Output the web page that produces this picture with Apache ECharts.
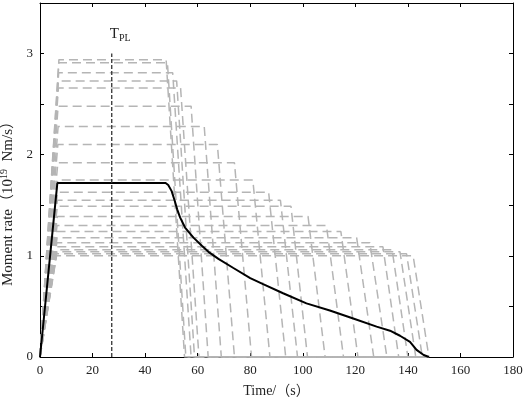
<!DOCTYPE html>
<html>
<head>
<meta charset="utf-8">
<script src="https://cdn.jsdelivr.net/npm/echarts@6/dist/echarts.min.js"></script>
<style>
  html, body { margin: 0; padding: 0; background: #fff; }
  #main { width: 526px; height: 399px; }
</style>
</head>
<body>
<div id="main"></div>
<script>
// 灰色虚线：各个梯形震源时间函数（平台值、上升结束、下降开始、结束时刻）
var grayLevels    = [2.94, 2.91, 2.81, 2.73, 2.66, 2.48, 2.28, 2.10, 1.92, 1.75, 1.63, 1.55, 1.49, 1.39, 1.30, 1.24, 1.18, 1.13, 1.09, 1.06, 1.04, 1.02, 1.00];
var grayRiseEnd   = [7.2, 7.2, 7.1, 7.0, 7.0, 6.9, 6.9, 6.8, 6.8, 6.7, 6.7, 6.6, 6.6, 6.6, 6.5, 6.5, 6.5, 6.4, 6.4, 6.4, 6.4, 6.3, 6.3];
var grayFallStart = [48.0, 48.5, 50.5, 52.0, 53.5, 57.5, 62.5, 67.5, 74.0, 81.0, 87.0, 91.5, 95.5, 102.0, 109.0, 114.5, 120.5, 125.5, 130.5, 134.0, 137.0, 139.5, 142.0];
var grayEnd       = [55.0, 55.5, 57.5, 58.8, 60.5, 64.0, 69.0, 74.0, 80.5, 87.5, 93.5, 98.0, 101.8, 108.5, 115.5, 121.0, 127.0, 132.0, 136.5, 140.0, 143.0, 145.5, 148.0];
var grayTail = 148;

// 黑色实线
var blackTime = [0, 6.6, 47.8, 48.8, 50.1, 51.2, 52.2, 53.3, 55.2, 58.4, 61.6, 64.1, 67.9, 73.6, 80.0, 84.9, 92.5, 101.4, 110.3, 119.2, 128.1, 133.2, 137.0, 140.8, 143.3, 146.0, 148.0];
var blackRate = [0, 1.72, 1.72, 1.70, 1.64, 1.55, 1.46, 1.38, 1.28, 1.18, 1.10, 1.04, 0.97, 0.88, 0.78, 0.72, 0.63, 0.53, 0.46, 0.38, 0.30, 0.26, 0.21, 0.15, 0.07, 0.02, 0];

// T_PL
var tplTime = 27.3;
var tplTop = 3.0;

var xTicks = [0, 180, 20];
var yTicks = [0, 3.5, 0.5];

var fontFam = 'Liberation Serif, Noto Sans CJK SC, serif';

var series = [];
for (var i = 0; i < grayLevels.length; i++) {
    series.push({
        type: 'line',
        symbol: 'none',
        silent: true,
        lineStyle: { color: '#b5b5b5', width: 1.5, type: [9, 5] },
        data: [[0, 0], [grayRiseEnd[i], grayLevels[i]], [grayFallStart[i], grayLevels[i]], [grayEnd[i], 0], [grayTail, 0]]
    });
}

var blackData = blackTime.map(function (t, k) { return [t, blackRate[k]]; });
series.push({
    type: 'line',
    symbol: 'none',
    z: 5,
    lineStyle: { color: '#000', width: 2 },
    data: blackData
});

series.push({
    type: 'line',
    symbol: 'none',
    z: 6,
    lineStyle: { color: '#333', width: 1.3, type: [4, 2] },
    data: [[tplTime, 0], [tplTime, tplTop]],
    endLabel: {
        show: true,
        formatter: '{t|T}{s|PL}',
        offset: [-10, -20],
        rich: {
            t: { fontFamily: fontFam, fontSize: 15, color: '#222' },
            s: { fontFamily: fontFam, fontSize: 10, color: '#222', padding: [9, 0, 0, 0] }
        }
    }
});

var myChart = echarts.init(document.getElementById('main'));
myChart.setOption({
    animation: false,
    grid: { left: 40, right: 13, top: 3, bottom: 42, containLabel: false, outerBoundsMode: 'none' },
    xAxis: [
        {
            type: 'value',
            min: xTicks[0], max: xTicks[1], interval: xTicks[2],
            name: 'Time/（s）',
            nameLocation: 'middle',
            nameGap: 27,
            nameTextStyle: { fontFamily: fontFam, fontSize: 14, color: '#222' },
            axisLine: { onZero: false, lineStyle: { color: '#000', width: 1 } },
            axisTick: { inside: true, length: 4, lineStyle: { color: '#000' } },
            axisLabel: { fontFamily: fontFam, fontSize: 13, color: '#222', margin: 7 },
            splitLine: { show: false }
        },
        {
            type: 'value', position: 'top',
            min: xTicks[0], max: xTicks[1], interval: xTicks[2],
            axisLine: { onZero: false, lineStyle: { color: '#000', width: 1 } },
            axisTick: { inside: true, length: 4, lineStyle: { color: '#000' } },
            axisLabel: { show: false },
            splitLine: { show: false }
        }
    ],
    yAxis: [
        {
            type: 'value',
            min: yTicks[0], max: yTicks[1], interval: yTicks[2],
            name: '{a|Moment rate（10}{sup|19}{a|  Nm/s）}',
            nameLocation: 'middle',
            nameGap: 21,
            nameTextStyle: {
                padding: [0, 40, 0, 0],
                rich: {
                    a: { fontFamily: fontFam, fontSize: 15, color: '#222' },
                    sup: { fontFamily: fontFam, fontSize: 10, color: '#222', padding: [0, 0, 8, 0] }
                }
            },
            axisLine: { onZero: false, lineStyle: { color: '#000', width: 1 } },
            axisTick: { inside: true, length: 4, lineStyle: { color: '#000' } },
            axisLabel: {
                fontFamily: fontFam, fontSize: 13, color: '#222', margin: 7,
                formatter: function (v) { return Math.abs(v - Math.round(v)) < 1e-6 ? String(Math.round(v)) : ''; }
            },
            splitLine: { show: false }
        },
        {
            type: 'value', position: 'right',
            min: yTicks[0], max: yTicks[1], interval: yTicks[2],
            axisLine: { onZero: false, lineStyle: { color: '#000', width: 1 } },
            axisTick: { inside: true, length: 4, lineStyle: { color: '#000' } },
            axisLabel: { show: false },
            splitLine: { show: false }
        }
    ],
    series: series
});
</script>
</body>
</html>
